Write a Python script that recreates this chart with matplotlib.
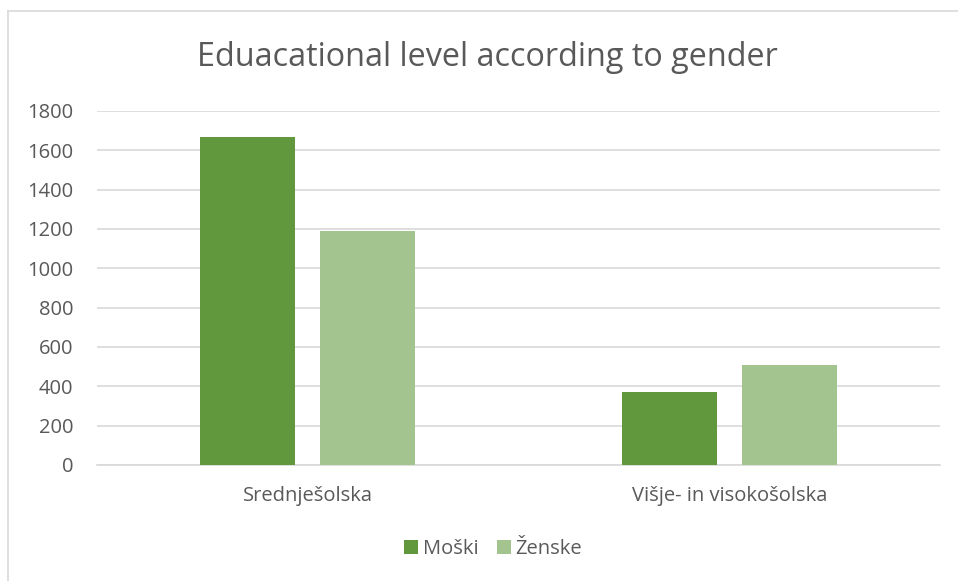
import matplotlib
matplotlib.use("Agg")
import matplotlib.pyplot as plt
import numpy as np
from matplotlib.lines import Line2D

categories = ["Srednješolska", "Višje- in visokošolska"]
series_names = ["Moški", "Ženske"]
moski = [1668, 371]
zenske = [1190, 510]
yticks = [0, 200, 400, 600, 800, 1000, 1200, 1400, 1600, 1800]

colors = ["#62983D", "#A3C48F"]
text_color = "#595959"

plt.rcParams['font.family'] = ['Open Sans', 'DejaVu Sans']

fig = plt.figure(figsize=(9.58, 5.81), dpi=100)
ax = fig.add_axes([97/958, 1 - 465/581, (940-97)/958, (465-111)/581])

x = np.arange(len(categories))
w = 0.225
gap = 0.059
off = (w + gap) / 2
ax.bar(x - off, moski, width=w, color=colors[0], label=series_names[0], zorder=3)
ax.bar(x + off, zenske, width=w, color=colors[1], label=series_names[1], zorder=3)

ax.set_xlim(-0.5, 1.5)
ax.set_ylim(0, 1800)
ax.set_yticks(yticks)
ax.set_yticklabels([str(v) for v in yticks], fontsize=14.5, color=text_color)
ax.set_xticks(x)
ax.set_xticklabels(categories, fontsize=14.5, color=text_color)
ax.tick_params(axis='y', length=0, pad=17)
ax.tick_params(axis='x', length=0, pad=15)
ax.grid(axis='y', color="#D9D9D9", linewidth=1.2, zorder=0)
for s in ["top", "right", "left"]:
    ax.spines[s].set_visible(False)
ax.spines["bottom"].set_color("#D9D9D9")
ax.spines["bottom"].set_linewidth(1.2)

fig.text(487/958, 1 - 58/581, "Eduacational level according to gender",
         ha='center', va='center', fontsize=23.3, color=text_color)

leg = fig.legend(loc='center', bbox_to_anchor=(493/958, 1 - 549/581), ncol=2,
                 frameon=False, fontsize=14.5, handlelength=0.7, handleheight=0.7,
                 handletextpad=0.25, columnspacing=0.9)
for t in leg.get_texts():
    t.set_color(text_color)

fig.add_artist(Line2D([8/958, 8/958], [0, 1 - 11/581], transform=fig.transFigure,
                      color="#D9D9D9", linewidth=1.2))
fig.add_artist(Line2D([8/958, 1], [1 - 11/581, 1 - 11/581], transform=fig.transFigure,
                      color="#D9D9D9", linewidth=1.2))

fig.savefig("out.png", dpi=100, facecolor="white")
